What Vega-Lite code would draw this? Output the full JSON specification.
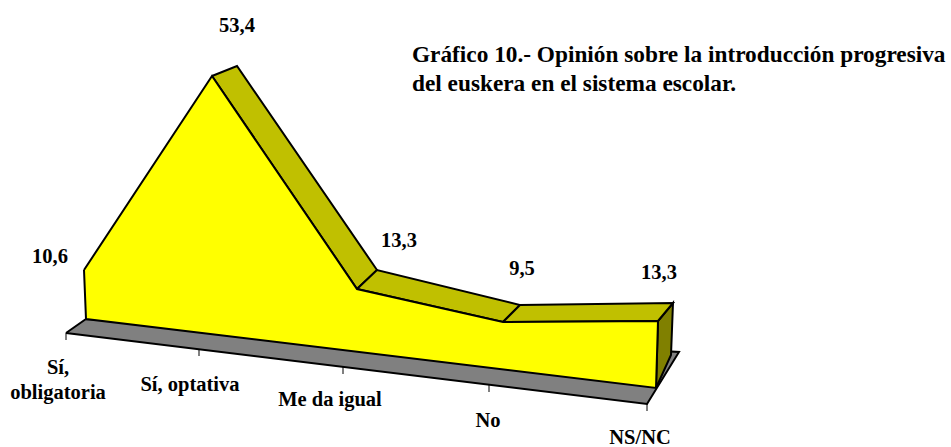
{
"$schema":"https://vega.github.io/schema/vega-lite/v6.json",
"width":951,"height":447,"padding":0,"autosize":{"type":"none"},"background":"white",
"view":{"stroke":null},
"datasets":{
"faces":[
{"part":"floor","ord":1,"x":66,"y":333},{"part":"floor","ord":2,"x":86,"y":319},{"part":"floor","ord":3,"x":679,"y":352},{"part":"floor","ord":4,"x":647,"y":404},{"part":"floor","ord":5,"x":66,"y":333},
{"part":"side","ord":1,"x":658,"y":321},{"part":"side","ord":2,"x":673,"y":303},{"part":"side","ord":3,"x":671,"y":355},{"part":"side","ord":4,"x":656,"y":388},{"part":"side","ord":5,"x":658,"y":321},
{"part":"top1","ord":1,"x":212,"y":76},{"part":"top1","ord":2,"x":237,"y":66},{"part":"top1","ord":3,"x":377,"y":270},{"part":"top1","ord":4,"x":357,"y":289},{"part":"top1","ord":5,"x":212,"y":76},
{"part":"top2","ord":1,"x":357,"y":289},{"part":"top2","ord":2,"x":377,"y":270},{"part":"top2","ord":3,"x":520,"y":305},{"part":"top2","ord":4,"x":503,"y":322},{"part":"top2","ord":5,"x":357,"y":289},
{"part":"top3","ord":1,"x":503,"y":322},{"part":"top3","ord":2,"x":520,"y":305},{"part":"top3","ord":3,"x":673,"y":303},{"part":"top3","ord":4,"x":658,"y":321},{"part":"top3","ord":5,"x":503,"y":322},
{"part":"front","ord":1,"x":84,"y":270},{"part":"front","ord":2,"x":212,"y":76},{"part":"front","ord":3,"x":357,"y":289},{"part":"front","ord":4,"x":503,"y":322},{"part":"front","ord":5,"x":658,"y":321},{"part":"front","ord":6,"x":656,"y":388},{"part":"front","ord":7,"x":86,"y":319},{"part":"front","ord":8,"x":84,"y":270}
],
"ticks":[{"x":66,"y":333,"y2":340},{"x":199,"y":349,"y2":356},{"x":343,"y":367,"y2":374},{"x":489,"y":385,"y2":392},{"x":647,"y":404,"y2":411}],
"labels":[
{"t":"53,4","x":237,"y":26},{"t":"10,6","x":50,"y":257},{"t":"13,3","x":399,"y":241},{"t":"9,5","x":522,"y":269},{"t":"13,3","x":659,"y":273},
{"t":"Sí,","x":58,"y":368},{"t":"obligatoria","x":58,"y":393},{"t":"Sí, optativa","x":190,"y":385},{"t":"Me da igual","x":330,"y":400},{"t":"No","x":488,"y":421},{"t":"NS/NC","x":640,"y":438}
],
"title":[{"t":"Gráfico 10.- Opinión sobre la introducción progresiva","x":412,"y":55},{"t":"del euskera en el sistema escolar.","x":412,"y":84}]
},
"encoding":{
"x":{"field":"x","type":"quantitative","scale":{"domain":[0,951],"nice":false,"zero":false},"axis":null},
"y":{"field":"y","type":"quantitative","scale":{"domain":[447,0],"nice":false,"zero":false},"axis":null}
},
"layer":[
{"data":{"name":"faces"},"transform":[{"filter":"datum.part=='floor'"}],"mark":{"type":"line","fill":"#808080","stroke":"black","strokeWidth":2},"encoding":{"order":{"field":"ord","type":"quantitative"}}},
{"data":{"name":"ticks"},"mark":{"type":"rule","stroke":"black","strokeWidth":1},"encoding":{"y2":{"field":"y2"}}},
{"data":{"name":"faces"},"transform":[{"filter":"datum.part=='side'"}],"mark":{"type":"line","fill":"#808000","stroke":"black","strokeWidth":2},"encoding":{"order":{"field":"ord","type":"quantitative"}}},
{"data":{"name":"faces"},"transform":[{"filter":"datum.part=='top1'"}],"mark":{"type":"line","fill":"#C0C000","stroke":"black","strokeWidth":2},"encoding":{"order":{"field":"ord","type":"quantitative"}}},
{"data":{"name":"faces"},"transform":[{"filter":"datum.part=='top2'"}],"mark":{"type":"line","fill":"#C0C000","stroke":"black","strokeWidth":2},"encoding":{"order":{"field":"ord","type":"quantitative"}}},
{"data":{"name":"faces"},"transform":[{"filter":"datum.part=='top3'"}],"mark":{"type":"line","fill":"#C0C000","stroke":"black","strokeWidth":2},"encoding":{"order":{"field":"ord","type":"quantitative"}}},
{"data":{"name":"faces"},"transform":[{"filter":"datum.part=='front'"}],"mark":{"type":"line","fill":"#FFFF00","stroke":"black","strokeWidth":2},"encoding":{"order":{"field":"ord","type":"quantitative"}}},
{"data":{"name":"labels"},"mark":{"type":"text","font":"Liberation Serif","fontWeight":"bold","fontSize":20.5,"align":"center","baseline":"middle","color":"black"},"encoding":{"text":{"field":"t"}}},
{"data":{"name":"title"},"mark":{"type":"text","font":"Liberation Serif","fontWeight":"bold","fontSize":23.3,"align":"left","baseline":"middle","color":"black"},"encoding":{"text":{"field":"t"}}}
]
}
